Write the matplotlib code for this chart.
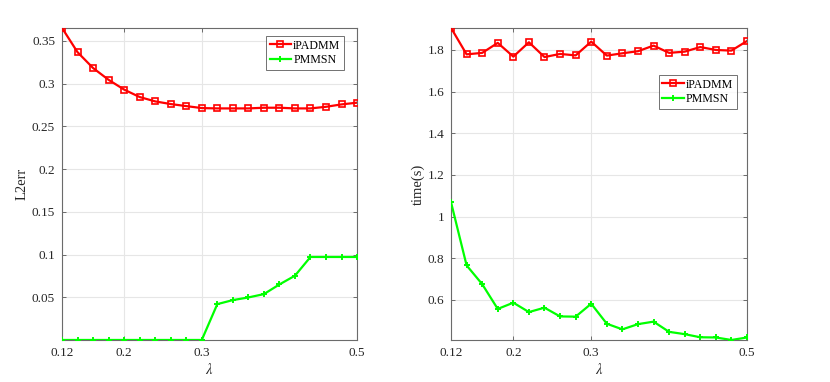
import numpy as np
import matplotlib.pyplot as plt

plt.rcParams['font.family'] = ['Liberation Serif', 'DejaVu Serif']
plt.rcParams['mathtext.fontset'] = 'stix'

# --- data --------------------------------------------------------------------
lam = [0.12, 0.14, 0.16, 0.18, 0.20, 0.22, 0.24, 0.26, 0.28, 0.30,
       0.32, 0.34, 0.36, 0.38, 0.40, 0.42, 0.44, 0.46, 0.48, 0.50]

l2err_ipadmm = [0.365, 0.3366, 0.3181, 0.3043, 0.2929, 0.2842, 0.2791, 0.2760, 0.2736, 0.2713,
                0.2709, 0.2709, 0.2709, 0.2717, 0.2717, 0.2709, 0.2709, 0.2728, 0.2756, 0.2776]
l2err_pmmsn = [0.0003, 0.0003, 0.0003, 0.0003, 0.0003, 0.0003, 0.0003, 0.0003, 0.0003, 0.0003,
               0.0422, 0.0469, 0.0500, 0.0539, 0.0652, 0.0754, 0.0973, 0.0973, 0.0973, 0.0973]

time_ipadmm = [1.906, 1.779, 1.786, 1.834, 1.768, 1.837, 1.766, 1.781, 1.774, 1.840,
               1.773, 1.784, 1.794, 1.821, 1.786, 1.792, 1.814, 1.800, 1.797, 1.843]
time_pmmsn = [1.069, 0.766, 0.676, 0.557, 0.587, 0.542, 0.563, 0.521, 0.520, 0.582,
              0.486, 0.459, 0.484, 0.496, 0.447, 0.436, 0.421, 0.420, 0.408, 0.420]

x_ticks = [0.12, 0.2, 0.3, 0.5]
x_ticklabels = ['0.12', '0.2', '0.3', '0.5']
l2_ticks = [0.05, 0.1, 0.15, 0.2, 0.25, 0.3, 0.35]
l2_ticklabels = ['0.05', '0.1', '0.15', '0.2', '0.25', '0.3', '0.35']
time_ticks = [0.6, 0.8, 1.0, 1.2, 1.4, 1.6, 1.8]
time_ticklabels = ['0.6', '0.8', '1', '1.2', '1.4', '1.6', '1.8']

RED = '#ff0000'
GREEN = '#00ff00'
AXCOL = '#6b6b6b'
FS = 9.5

fig = plt.figure(figsize=(8.30, 3.82), dpi=100)
ax1 = fig.add_axes([0.0747, 0.110, 0.3555, 0.817])
ax2 = fig.add_axes([0.5434, 0.110, 0.3566, 0.817])


def style(ax, yvals, yticks, yticklabels, ylabel, anchor):
    ax.plot(lam, yvals[0], color=RED, lw=1.6, marker='s', ms=4,
            mfc='none', mec=RED, mew=1.2, label='iPADMM', zorder=3)
    ax.plot(lam, yvals[1], color=GREEN, lw=1.6, marker='+', ms=5,
            mec=GREEN, mew=1.4, label='PMMSN', zorder=3)
    lo = min(min(yvals[0]), min(yvals[1]))
    hi = max(max(yvals[0]), max(yvals[1]))
    ax.set_xlim(lam[0], lam[-1])
    ax.set_ylim(lo, hi)
    ax.set_xticks(x_ticks)
    ax.set_xticklabels(x_ticklabels)
    ax.set_yticks(yticks)
    ax.set_yticklabels(yticklabels)
    ax.grid(True, color='#e6e6e6', lw=0.8)
    ax.set_axisbelow(True)
    ax.tick_params(direction='in', length=3, width=0.7, color=AXCOL,
                   top=True, right=True, labelsize=FS, labelcolor='#262626', pad=5)
    for s in ax.spines.values():
        s.set_color(AXCOL)
        s.set_linewidth(0.8)
    ax.set_xlabel(r'$\lambda$', fontsize=FS * 1.1, color='#262626', labelpad=2)
    ax.set_ylabel(ylabel, fontsize=FS * 1.1, color='#262626', labelpad=2)
    leg = ax.legend(loc='upper right', bbox_to_anchor=anchor, fontsize=FS * 0.9,
                    frameon=True, fancybox=False, edgecolor='#4d4d4d',
                    handlelength=1.8, handletextpad=0.2, borderpad=0.3,
                    labelspacing=0.2, borderaxespad=0)
    leg.get_frame().set_linewidth(0.7)
    return leg


style(ax1, (l2err_ipadmm, l2err_pmmsn), l2_ticks, l2_ticklabels, 'L2err',
      (0.956, 0.974))
style(ax2, (time_ipadmm, time_pmmsn), time_ticks, time_ticklabels, 'time(s)',
      (0.966, 0.849))

fig.savefig('out.png', dpi=100)
